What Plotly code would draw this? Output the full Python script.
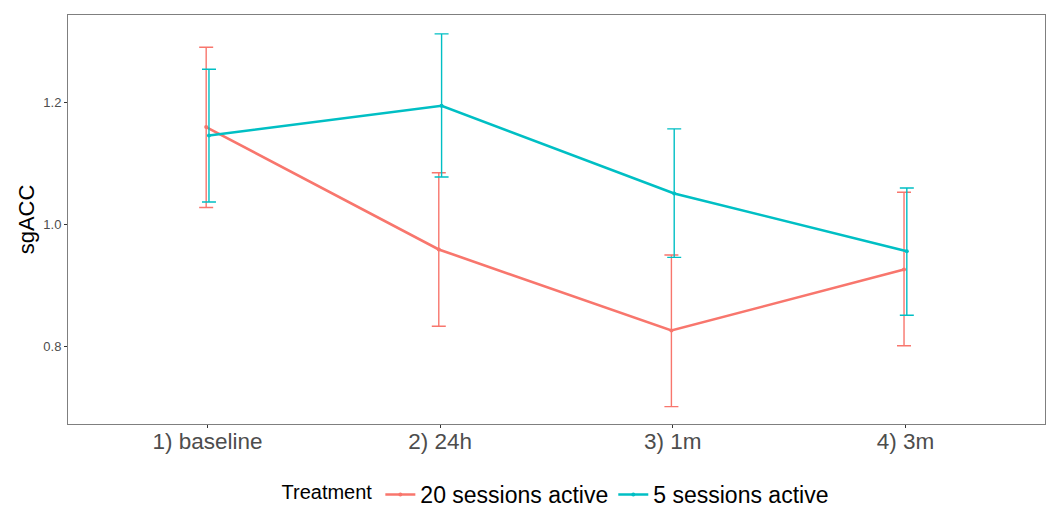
import plotly.graph_objects as go

categories = ["1) baseline", "2) 24h", "3) 1m", "4) 3m"]
series_names = ["20 sessions active", "5 sessions active"]
red_mean = [1.160, 0.959, 0.826, 0.926]
red_upper = [1.291, 1.085, 0.950, 1.053]
red_lower = [1.028, 0.833, 0.701, 0.801]
teal_mean = [1.146, 1.195, 1.051, 0.956]
teal_upper = [1.255, 1.313, 1.157, 1.060]
teal_lower = [1.037, 1.078, 0.946, 0.851]
y_ticks = [0.8, 1.0, 1.2]

colors = ["#F8766D", "#00BFC4"]
dodge = [-0.006, 0.006]
series = [(red_mean, red_upper, red_lower), (teal_mean, teal_upper, teal_lower)]

fig = go.Figure()
for i, (m, up, lo) in enumerate(series):
    xs = [k + dodge[i] for k in range(len(categories))]
    fig.add_trace(go.Scatter(
        x=xs, y=m, mode="lines+markers", name=series_names[i],
        line=dict(color=colors[i], width=2.6),
        marker=dict(color=colors[i], size=4),
        error_y=dict(type="data", symmetric=False,
                     array=[u - v for u, v in zip(up, m)],
                     arrayminus=[v - l for v, l in zip(m, lo)],
                     color=colors[i], thickness=1.4, width=7),
    ))

fig.update_layout(
    width=1051, height=516,
    margin=dict(l=68, r=6, t=15, b=92, autoexpand=False),
    plot_bgcolor="white", paper_bgcolor="white",
    font=dict(family="Liberation Sans, Arial, sans-serif", color="#4d4d4d"),
    legend=dict(orientation="h", x=0.5, xanchor="center", y=-0.2249, yanchor="bottom",
                title=dict(text="Treatment", font=dict(size=20, color="black")),
                font=dict(size=23, color="black"), itemwidth=30),
    showlegend=True,
)
fig.update_xaxes(
    range=[-0.6, 3.6], tickmode="array", tickvals=list(range(len(categories))),
    ticktext=categories, tickfont=dict(size=22.5, color="#4d4d4d"),
    ticklabelstandoff=-6,
    showgrid=False, zeroline=False, showline=True, mirror=True, automargin=False,
    linecolor="#7f7f7f", linewidth=1, ticks="outside", ticklen=3, tickcolor="#333333",
)
fig.update_yaxes(
    range=[0.6724, 1.344], tickmode="array", tickvals=y_ticks,
    ticktext=[f"{v:.1f}" for v in y_ticks], tickfont=dict(size=13, color="#4d4d4d"),
    title=dict(text="sgACC", font=dict(size=22, color="black"), standoff=2),
    showgrid=False, zeroline=False, showline=True, mirror=True, automargin=False,
    linecolor="#7f7f7f", linewidth=1, ticks="outside", ticklen=3, tickcolor="#333333",
)

fig.write_html("out.html", config={"displayModeBar": False},
               post_script="document.body.style.margin='0';document.body.style.overflow='hidden';")
